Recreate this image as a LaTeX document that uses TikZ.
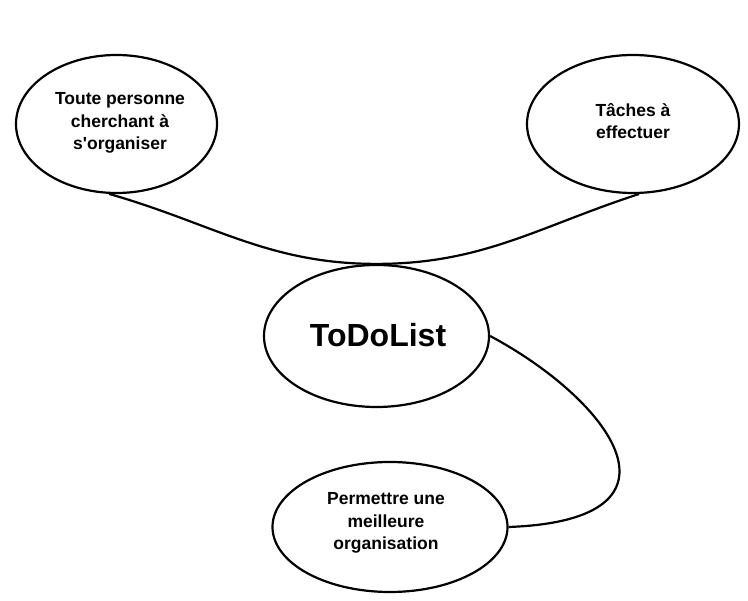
\documentclass[tikz,border=0pt]{standalone}
\usepackage{fontspec}
\setmainfont[Ligatures=TeXOff]{Liberation Sans}
\usetikzlibrary{shapes.geometric}
\begin{document}
\begin{tikzpicture}[x=1pt,y=-1pt,
  bubble/.style={draw=black,line width=2.2pt,ellipse,inner sep=0pt},
  small/.style={font=\bfseries\fontsize{17.5}{22.5}\selectfont,align=center},
  link/.style={draw=black,line width=2.2pt}]
\useasboundingbox (0,0) rectangle (748,601);
\node[bubble,minimum width=201pt,minimum height=138pt] (L) at (116.5,124) {};
\node[small] (Lt) at (120,123) {Toute personne\\cherchant à\\s'organiser};
\node[bubble,minimum width=212pt,minimum height=138pt] (R) at (633,124) {};
\node[small] (Rt) at (633,121) {Tâches à\\effectuer};
\node[bubble,minimum width=225pt,minimum height=142pt] (C) at (376.5,336) {};
\node[font=\bfseries\fontsize{32}{36}\selectfont] (Ct) at (378,335) {ToDoList};
\node[bubble,minimum width=235pt,minimum height=130pt] (B) at (390,527) {};
\node[small] (Bt) at (386,523) {Permettre une\\meilleure\\organisation};
\draw[link] (L.-96) to[out=-16,in=180] (C.north) to[out=0,in=-162] (R.-85);
\draw[link] (C.east) .. controls (610,400) and (700,520) .. (B.east);
\end{tikzpicture}
\end{document}
